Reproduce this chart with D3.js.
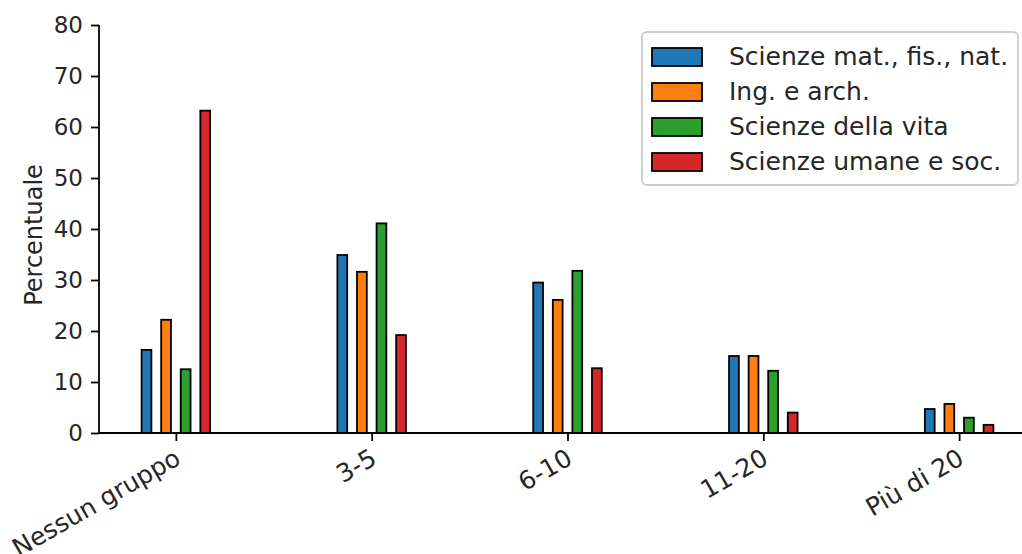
<!DOCTYPE html>
<html><head><meta charset="utf-8">
<script src="https://cdn.jsdelivr.net/npm/d3@7"></script>
<style>body{margin:0;background:#fff}svg{display:block}text{font-family:"DejaVu Sans",sans-serif;fill:#262626}</style>
</head><body>
<svg id="c" width="1022" height="554"></svg>
<script>
const categories = ["Nessun gruppo", "3-5", "6-10", "11-20", "Più di 20"];
const seriesNames = ["Scienze mat., fis., nat.", "Ing. e arch.", "Scienze della vita", "Scienze umane e soc."];
const colors = ["#1f77b4", "#ff7f0e", "#2ca02c", "#d62728"];
const scienzeMat = [16.3, 34.9, 29.5, 15.1, 4.7];
const ingArch = [22.2, 31.6, 26.1, 15.1, 5.7];
const scienzeVita = [12.5, 41.1, 31.8, 12.2, 3.0];
const scienzeUmane = [63.2, 19.2, 12.7, 4.0, 1.6];
const yTicks = [0, 10, 20, 30, 40, 50, 60, 70, 80];
const series = [scienzeMat, ingArch, scienzeVita, scienzeUmane];

const svg = d3.select("#c");
const plotLeft = 99, plotBottom = 433, plotTop = 25;
const barW = 0.05, step = 0.1;
const x = d3.scaleLinear().domain([-0.3925, 4.3925]).range([plotLeft, 1036]);
const y = d3.scaleLinear().domain([0, 80]).range([plotBottom, plotTop]);

// bars
series.forEach((vals, si) => {
  svg.append("g").selectAll("rect").data(vals).join("rect")
    .attr("x", (d, i) => x(i + (si - 1.5) * step - barW / 2))
    .attr("width", x(barW) - x(0))
    .attr("y", d => y(d))
    .attr("height", d => y(0) - y(d))
    .attr("fill", colors[si])
    .attr("stroke", "#000")
    .attr("stroke-width", 1.8);
});

// y axis
const ya = svg.append("g").attr("transform", `translate(${plotLeft},0)`)
  .call(d3.axisLeft(y).tickValues(yTicks).tickSize(8).tickPadding(8).tickFormat(d3.format("d")));
ya.select(".domain").attr("stroke", "#000").attr("stroke-width", 1.8).attr("d", `M0,${plotTop}V${plotBottom}`);
ya.selectAll(".tick line").attr("stroke", "#000").attr("stroke-width", 1.8);
ya.selectAll("text").attr("font-size", 23).attr("font-family", "DejaVu Sans").attr("fill", "#262626");

// x axis
const xa = svg.append("g").attr("transform", `translate(0,${plotBottom})`)
  .call(d3.axisBottom(x).tickValues(d3.range(categories.length)).tickSize(8).tickFormat(""));
xa.select(".domain").attr("stroke", "#000").attr("stroke-width", 1.8).attr("d", `M${plotLeft},0H1036`);
xa.selectAll(".tick line").attr("stroke", "#000").attr("stroke-width", 1.8);
xa.selectAll(".tick").append("text")
  .attr("text-anchor", "end")
  .attr("transform", "translate(6,30) rotate(-30)")
  .attr("font-size", 25)
  .attr("font-family", "DejaVu Sans")
  .attr("fill", "#262626")
  .text((d, i) => categories[i]);

// y label
svg.append("text").attr("transform", `translate(42,235) rotate(-90)`)
  .attr("text-anchor", "middle").attr("font-size", 24).text("Percentuale");

// legend
const lg = svg.append("g");
lg.append("rect").attr("x", 642).attr("y", 32).attr("width", 376).attr("height", 153)
  .attr("rx", 5).attr("fill", "#fff").attr("fill-opacity", 0.8).attr("stroke", "#cccccc").attr("stroke-width", 1.8);
seriesNames.forEach((n, i) => {
  const cy = 57 + i * 35;
  lg.append("rect").attr("x", 652).attr("y", cy - 9).attr("width", 50).attr("height", 18)
    .attr("fill", colors[i]).attr("stroke", "#000").attr("stroke-width", 1.8);
  lg.append("text").attr("x", 729).attr("y", cy + 8).attr("font-size", 25).text(n);
});
</script>
</body></html>
